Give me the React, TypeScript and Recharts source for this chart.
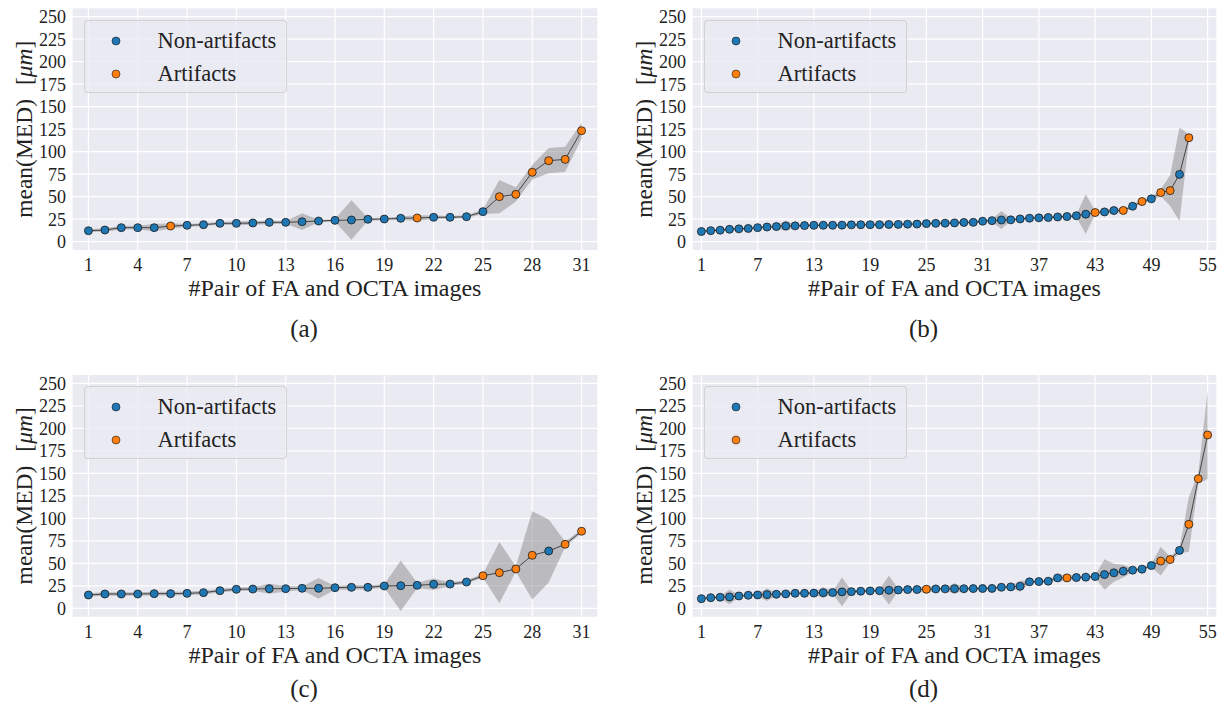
import React from 'react'
import {
  Area,
  CartesianGrid,
  ComposedChart,
  Label,
  Legend,
  Line,
  XAxis,
  YAxis,
} from 'recharts'

const FONT = "'Liberation Serif', 'Times New Roman', serif"
const BLUE = '#1f77b4'
const ORANGE = '#ff7f0e'
const TEXT = '#222222'

const ticksShort = [1, 4, 7, 10, 13, 16, 19, 22, 25, 28, 31]
const ticksLong = [1, 7, 13, 19, 25, 31, 37, 43, 49, 55]
const yTicks = [0, 25, 50, 75, 100, 125, 150, 175, 200, 225, 250]

// (a)
const meanA = [
  12.2, 13, 15.6, 15.6, 15.6, 17.4, 18.2, 18.9, 20.4, 20.4, 20.8, 21.5, 21.5,
  22.2, 23, 23.7, 24.1, 24.9, 25.2, 26, 26.3, 27.1, 27.1, 27.8, 33.4, 50, 52.6,
  77.1, 90, 91.5, 123.3,
]
const stdA = [
  1.5, 2, 2, 2, 4, 3, 1.5, 1.5, 1.5, 2, 2, 2, 1.5, 9.3, 1.5, 1.5, 22, 1.5, 1.5,
  2, 3, 2, 1.5, 1.5, 2.5, 18.5, 8, 8, 14, 14, 9,
]
const artA = [6, 21, 26, 27, 28, 29, 30, 31]

// (b)
const meanB = [
  11.3, 12.3, 12.8, 13.8, 14.3, 14.7, 15.6, 16.3, 16.8, 17.5, 17.6, 17.9, 18.2,
  18.3, 18.3, 18.4, 18.7, 18.8, 18.9, 18.9, 19.1, 19.2, 19.5, 19.6, 20.1, 20.4,
  20.6, 20.9, 21.4, 21.5, 22.8, 23.4, 24.1, 24.3, 25.3, 26.1, 26.5, 26.9, 27.5,
  27.9, 28.8, 30.6, 32.4, 33.1, 34.6, 34.7, 39.4, 44.6, 47.6, 54.6, 56.8, 74.8,
  115.5,
]
const stdB = [
  1.5, 1.5, 1.5, 1.5, 1.5, 1.5, 1.5, 1.5, 1.5, 6, 1.5, 1.5, 1.5, 1.5, 1.5, 1.5,
  1.5, 1.5, 1.5, 1.5, 1.5, 1.5, 1.5, 1.5, 1.5, 1.5, 1.5, 1.5, 1.5, 1.5, 1.5, 1.5,
  10, 1.5, 1.5, 1.5, 1.5, 1.5, 1.5, 1.5, 1.5, 22, 2, 2, 3, 2, 2, 2, 2, 4, 17, 52,
  4,
]
const artB = [43, 46, 48, 50, 51, 53]

// (c)
const meanC = [
  14.8, 15.9, 15.9, 15.9, 16.3, 16.3, 16.6, 17.4, 19.6, 21.1, 21.4, 21.8, 21.8,
  22.2, 22.2, 22.9, 23.3, 23.3, 24.8, 25.1, 25.5, 26.7, 26.9, 29.2, 36.2, 39.6,
  43.7, 58.9, 63.7, 71.1, 85.6,
]
const stdC = [
  2, 2, 2, 2, 2, 2, 2, 2, 2, 2, 2, 5.5, 3, 2, 11.5, 2, 3, 2, 2, 28, 3, 6.5, 2, 2,
  2, 34, 3, 49, 35, 3, 2,
]
const artC = [25, 26, 27, 28, 30, 31]

// (d)
const meanD = [
  10.7, 11.8, 12.3, 12.6, 13.7, 14.5, 14.8, 15.2, 15.6, 16, 16.7, 16.7, 16.9,
  17.4, 17.5, 18.2, 18.5, 19, 19.3, 19.6, 20.1, 20.4, 20.8, 20.9, 21.2, 21.5,
  21.6, 21.8, 21.8, 21.9, 22, 22.1, 23.4, 23.8, 24.5, 29.4, 29.7, 30.1, 33.8,
  33.8, 34.2, 34.6, 35.3, 37.5, 39.4, 41.3, 42.4, 43.5, 47.5, 52.5, 54.2, 64.3,
  93.3, 144, 192.6,
]
const stdD = [
  1.5, 1.5, 1.5, 8, 1.5, 1.5, 1.5, 7, 1.5, 1.5, 1.5, 1.5, 1.5, 6, 1.5, 16, 1.5,
  1.5, 1.5, 1.5, 16, 1.5, 1.5, 1.5, 5, 1.5, 1.5, 6, 1.5, 1.5, 1.5, 1.5, 1.5, 1.5,
  6, 1.5, 1.5, 1.5, 3, 4, 1.5, 1.5, 1.5, 17, 10, 7, 2, 1.5, 2, 16, 3, 3, 30.5, 6,
  49,
]
const artD = [25, 40, 50, 51, 53, 54, 55]

const legendItems = [
  { label: 'Non-artifacts', color: BLUE },
  { label: 'Artifacts', color: ORANGE },
]

const buildRows = (mean: number[], std: number[], art: number[]) =>
  mean.map((m, i) => ({
    idx: i + 1,
    mean: m,
    band: [m - std[i], m + std[i]],
    art: art.includes(i + 1),
  }))

const renderDot = (props: any) => {
  const { cx, cy, payload, index } = props
  if (cx == null || cy == null) return <g key={`d-${index}`} />
  return (
    <circle
      key={`d-${index}`}
      cx={cx}
      cy={cy}
      r={4}
      fill={payload.art ? ORANGE : BLUE}
      stroke="#1a1a1a"
      strokeWidth={0.8}
    />
  )
}

const LegendBox = () => (
  <div
    style={{
      width: 203,
      height: 73,
      boxSizing: 'border-box',
      background: 'rgba(234,234,242,0.8)',
      border: '1px solid rgba(204,204,204,0.8)',
      borderRadius: 4,
      position: 'relative',
      fontFamily: FONT,
    }}
  >
    {legendItems.map((it, i) => (
      <div
        key={it.label}
        style={{
          position: 'absolute',
          left: 0,
          top: 5 + i * 33,
          height: 30,
          display: 'flex',
          alignItems: 'center',
        }}
      >
        <svg width={70} height={30} style={{ display: 'block' }}>
          <circle cx={31} cy={15} r={4} fill={it.color} stroke="#1a1a1a" strokeWidth={0.6} />
        </svg>
        <span style={{ fontSize: 22.5, color: TEXT, marginLeft: 3, lineHeight: '30px' }}>
          {it.label}
        </span>
      </div>
    ))}
  </div>
)

interface PanelProps {
  mean: number[]
  std: number[]
  art: number[]
  ticks: number[]
  xMax: number
  caption: string
  axisWidth: number
  marginRight: number
  marginTop: number
  marginBottom: number
  captionDy: number
}

const W = 611
const H = 354
const tickStyle = { fill: TEXT, fontSize: 18, fontFamily: FONT, style: { fontFamily: FONT } }

const Panel = (p: PanelProps) => {
  const data = buildRows(p.mean, p.std, p.art)
  const plotLeft = p.axisWidth
  return (
    <ComposedChart
      width={W}
      height={H}
      data={data}
      style={{ fontFamily: FONT }}
      margin={{ top: p.marginTop, right: p.marginRight, bottom: p.marginBottom, left: 0 }}
    >
      <CartesianGrid fill="#EAEAF2" fillOpacity={1} stroke="#ffffff" strokeWidth={1.2} />
      <XAxis
        dataKey="idx"
        type="number"
        domain={[0, p.xMax]}
        ticks={p.ticks}
        interval={0}
        axisLine={false}
        tickLine={false}
        tickSize={0}
        tickMargin={8}
        height={30}
        allowDataOverflow
        tick={tickStyle}
      >
        <Label
          content={(lp: any) => {
            const vb = lp.viewBox
            return (
              <text
                x={vb.x + vb.width / 2}
                y={vb.y + 37.5}
                textAnchor="middle"
                dominantBaseline="central"
                fontFamily={FONT}
                fontSize={24}
                fill={TEXT}
              >
                #Pair of FA and OCTA images
              </text>
            )
          }}
        />
        <Label
          content={(lp: any) => {
            const vb = lp.viewBox
            return (
              <text
                x={vb.x + vb.width / 2 - 31}
                y={vb.y + p.captionDy}
                textAnchor="middle"
                dominantBaseline="central"
                fontFamily={FONT}
                fontSize={25}
                fill={TEXT}
              >
                {p.caption}
              </text>
            )
          }}
        />
      </XAxis>
      <YAxis
        type="number"
        domain={[-10, 260]}
        ticks={yTicks}
        interval={0}
        width={p.axisWidth}
        axisLine={false}
        tickLine={false}
        tickSize={0}
        tickMargin={6}
        allowDataOverflow
        tick={tickStyle}
      >
        <Label
          content={(lp: any) => {
            const vb = lp.viewBox
            const cx = vb.x + vb.width - 48
            const cy = vb.y + vb.height / 2
            return (
              <text
                x={cx}
                y={cy}
                textAnchor="middle"
                dominantBaseline="central"
                fontFamily={FONT}
                fontSize={23.5}
                fill={TEXT}
                transform={`rotate(-90, ${cx}, ${cy})`}
              >
                mean(MED)
                <tspan dx={14}>[</tspan>
                <tspan fontStyle="italic">μm</tspan>
                <tspan>]</tspan>
              </text>
            )
          }}
        />
      </YAxis>
      <Legend
        layout="vertical"
        align="center"
        verticalAlign="middle"
        wrapperStyle={{ left: plotLeft + 11.5, top: p.marginTop + 12, width: 203, height: 73 }}
        content={() => <LegendBox />}
      />
      <Area
        type="linear"
        dataKey="band"
        fill="#808080"
        fillOpacity={0.45}
        stroke="none"
        activeDot={false}
        isAnimationActive={false}
      />
      <Line
        type="linear"
        dataKey="mean"
        stroke="#454545"
        strokeWidth={1}
        dot={renderDot}
        activeDot={false}
        isAnimationActive={false}
      />
    </ComposedChart>
  )
}

export default function App() {
  return (
    <div
      style={{
        position: 'absolute',
        left: 0,
        top: 0,
        width: 1222,
        height: 708,
        background: '#ffffff',
        fontFamily: FONT,
      }}
    >
      <div style={{ position: 'absolute', left: 0, top: 0 }}>
        <Panel
          mean={meanA}
          std={stdA}
          art={artA}
          ticks={ticksShort}
          xMax={32}
          caption="(a)"
          axisWidth={72}
          marginRight={13}
          marginTop={7.7}
          marginBottom={73.3}
          captionDy={77.3}
        />
      </div>
      <div style={{ position: 'absolute', left: 611, top: 0 }}>
        <Panel
          mean={meanB}
          std={stdB}
          art={artB}
          ticks={ticksLong}
          xMax={56}
          caption="(b)"
          axisWidth={81}
          marginRight={5}
          marginTop={7.7}
          marginBottom={73.3}
          captionDy={77.3}
        />
      </div>
      <div style={{ position: 'absolute', left: 0, top: 354 }}>
        <Panel
          mean={meanC}
          std={stdC}
          art={artC}
          ticks={ticksShort}
          xMax={32}
          caption="(c)"
          axisWidth={72}
          marginRight={13}
          marginTop={20.3}
          marginBottom={60.7}
          captionDy={70.7}
        />
      </div>
      <div style={{ position: 'absolute', left: 611, top: 354 }}>
        <Panel
          mean={meanD}
          std={stdD}
          art={artD}
          ticks={ticksLong}
          xMax={56}
          caption="(d)"
          axisWidth={81}
          marginRight={5}
          marginTop={20.3}
          marginBottom={60.7}
          captionDy={70.7}
        />
      </div>
    </div>
  )
}
